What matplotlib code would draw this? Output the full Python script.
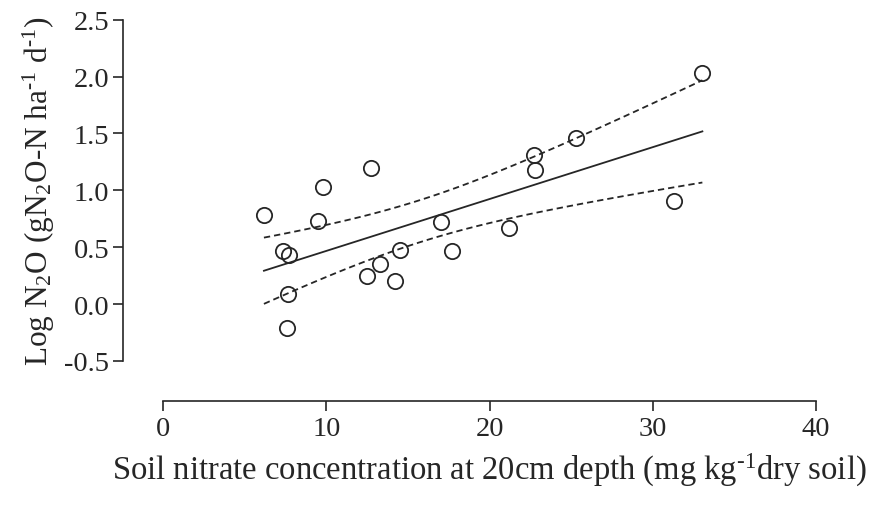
import numpy as np
import matplotlib
matplotlib.use("Agg")
import matplotlib.pyplot as plt

# Soil nitrate (mg/kg) vs log N2O flux
nitrate = [6.17, 7.32, 7.72, 7.66, 7.56, 9.50, 9.80, 12.71, 12.50, 13.28,
           14.20, 14.50, 17.00, 17.69, 21.18, 22.71, 22.79, 25.33, 31.31, 33.05]
log_n2o = [0.78, 0.47, 0.43, 0.09, -0.21, 0.73, 1.03, 1.20, 0.25, 0.35,
           0.20, 0.48, 0.72, 0.47, 0.67, 1.31, 1.18, 1.46, 0.91, 2.03]

x_ticks = [0, 10, 20, 30, 40]
y_ticks = [-0.5, 0.0, 0.5, 1.0, 1.5, 2.0, 2.5]

plt.rcParams['font.family'] = 'Liberation Serif'
plt.rcParams['mathtext.fontset'] = 'custom'
plt.rcParams['mathtext.rm'] = 'Liberation Serif'
plt.rcParams['mathtext.it'] = 'Liberation Serif:italic'

ink = '#262626'

x = np.array(nitrate)
y = np.array(log_n2o)
n = len(x)

# least squares fit with 95% confidence band for the mean
slope, intercept = np.polyfit(x, y, 1)
resid = y - (slope * x + intercept)
s = np.sqrt(np.sum(resid ** 2) / (n - 2))
t_crit = 2.101  # t(0.975, df=18)
xs = np.linspace(x.min(), x.max(), 100)
fit = slope * xs + intercept
half = t_crit * s * np.sqrt(1 / n + (xs - x.mean()) ** 2 / np.sum((x - x.mean()) ** 2))

fig = plt.figure(figsize=(8.69, 5.06), dpi=100)
ax = fig.add_axes([0.1879, 0.2846, 0.7508, 0.6745])

ax.plot(xs, fit, color=ink, lw=1.3)
ax.plot(xs, fit + half, color=ink, lw=1.3, ls=(0, (3.5, 2.2)))
ax.plot(xs, fit - half, color=ink, lw=1.3, ls=(0, (3.5, 2.2)))
ax.plot(x, y, 'o', ms=11, mfc='none', mec=ink, mew=1.3, zorder=3)

ax.set_xlim(0, 40)
ax.set_ylim(-0.5, 2.5)
ax.set_xticks(x_ticks)
ax.set_yticks(y_ticks)
ax.set_xticklabels([str(v) for v in x_ticks])
ax.set_yticklabels(['%.1f' % v for v in y_ticks])

for side in ['top', 'right']:
    ax.spines[side].set_visible(False)
ax.spines['left'].set_position(('outward', 28.8))
ax.spines['bottom'].set_position(('outward', 28.8))
for side in ['left', 'bottom']:
    ax.spines[side].set_color(ink)
    ax.spines[side].set_linewidth(1.2)

ax.tick_params(direction='out', length=7, width=1.2, color=ink,
               labelsize=20.5, labelcolor=ink)
ax.tick_params(axis='y', pad=3)
ax.tick_params(axis='x', pad=4)

ax.set_xlabel('Soil nitrate concentration at 20cm depth (mg kg$^{\u20101}$dry soil)',
              fontsize=23.5, color=ink, labelpad=7)
ax.set_ylabel('Log N$_2$O (gN$_2$O-N ha$^{\u20101}$ d$^{\u20101}$)',
              fontsize=22.5, color=ink, labelpad=5)

fig.savefig('out.png', dpi=100)
